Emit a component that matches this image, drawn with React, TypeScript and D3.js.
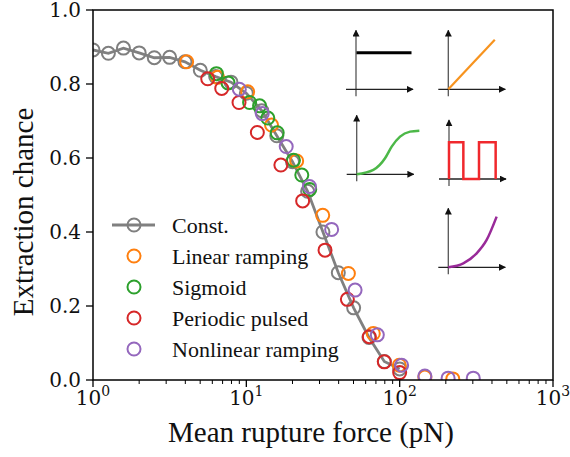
import React from 'react';
import * as d3 from 'd3';

// ---------- data ----------
const constForce = [1, 1.26, 1.58, 2.0, 2.51, 3.16, 3.98, 5.01, 6.31, 7.94, 10, 12.6, 15.8, 20.0, 25.1, 31.6, 39.8, 50.1, 63.1, 79.4, 100];
const constChance = [0.892, 0.883, 0.897, 0.884, 0.871, 0.872, 0.86, 0.837, 0.82, 0.805, 0.775, 0.728, 0.66, 0.59, 0.51, 0.40, 0.29, 0.195, 0.115, 0.05, 0.03];

const linForce = [4.08, 6.5, 10.2, 14.6, 21.3, 31.5, 46.3, 67.3, 99.5, 146, 222];
const linChance = [0.86, 0.818, 0.779, 0.689, 0.592, 0.445, 0.288, 0.126, 0.04, 0.008, 0.003];

const sigForce = [6.38, 7.6, 10.5, 12.2, 13.8, 15.9, 20.3, 23.0, 25.9];
const sigChance = [0.828, 0.803, 0.75, 0.741, 0.708, 0.668, 0.594, 0.554, 0.515];

const perForce = [5.6, 6.91, 8.96, 11.8, 16.8, 23.3, 32.6, 45.6, 63.4, 79.4, 100];
const perChance = [0.814, 0.788, 0.75, 0.669, 0.581, 0.484, 0.351, 0.218, 0.117, 0.049, 0.02];

const nonForce = [9.0, 12.7, 18.2, 25.8, 36.0, 51.2, 71.5, 103, 146, 207, 302];
const nonChance = [0.786, 0.72, 0.631, 0.523, 0.407, 0.243, 0.122, 0.04, 0.011, 0.005, 0.005];

const legendLabels = ['Const.', 'Linear ramping', 'Sigmoid', 'Periodic pulsed', 'Nonlinear ramping'];
const seriesColors = ['#7f7f7f', '#ff7f0e', '#2ca02c', '#d62728', '#9467bd'];

const xMajorTicks = [1, 10, 100, 1000];
const xTickExponents = ['0', '1', '2', '3'];
const yTicks = [0, 0.2, 0.4, 0.6, 0.8, 1.0];

// inset schematic shapes (unit coordinates)
const insetConst = [[0.01, 0.73], [1.11, 0.73]];
const insetLinear = [[0, 0], [0.93, 0.99]];
const insetSigmoid = [[0, 0], [0.333, 0.087], [0.567, 0.32], [0.7, 0.553], [0.867, 0.753], [1.067, 0.853], [1.253, 0.873]];
const insetPulse = [[0, 0], [0, 0.733], [0.287, 0.733], [0.287, 0], [0.6, 0], [0.6, 0.733], [0.933, 0.733], [0.933, 0]];
const insetNonlinear = [[0, 0], [0.3, 0.08], [0.567, 0.28], [0.767, 0.547], [0.967, 1.013]];

const W = 570, H = 457;
const L = 93, R = 553, T = 10, B = 380;

const serifTick = '"DejaVu Serif", serif';
const serifText = '"Liberation Serif", "Times New Roman", serif';

type Inset = { ox: number; oy: number; pts: number[][]; color: string; curve: any; width: number };

export default function App() {
  const x = d3.scaleLog().domain([1, 1000]).range([L, R]);
  const y = d3.scaleLinear().domain([0, 1]).range([B, T]);

  const series = [
    { force: constForce, chance: constChance },
    { force: linForce, chance: linChance },
    { force: sigForce, chance: sigChance },
    { force: perForce, chance: perChance },
    { force: nonForce, chance: nonChance },
  ].map((s, i) => ({ ...s, color: seriesColors[i], label: legendLabels[i] }));

  const constLine = d3
    .line<number>()
    .x((_, i) => x(constForce[i]))
    .y((d) => y(d))(constChance) as string;

  const minorTicks = x.ticks().filter((t) => !xMajorTicks.includes(t));
  const fmt = d3.format('.1f');

  const insetSx = d3.scaleLinear().domain([0, 1]).range([0, 50]);
  const insetSy = d3.scaleLinear().domain([0, 1]).range([0, -50]);
  const insets: Inset[] = [
    { ox: 356, oy: 89.3, pts: insetConst, color: '#000000', curve: d3.curveLinear, width: 3 },
    { ox: 448.3, oy: 89.3, pts: insetLinear, color: '#f7931e', curve: d3.curveLinear, width: 2.2 },
    { ox: 356.7, oy: 174.3, pts: insetSigmoid, color: '#4cb848', curve: d3.curveMonotoneX, width: 2.5 },
    { ox: 449, oy: 179, pts: insetPulse, color: '#f0282d', curve: d3.curveLinear, width: 2.5 },
    { ox: 448.3, oy: 267.3, pts: insetNonlinear, color: '#992a99', curve: d3.curveMonotoneX, width: 2.5 },
  ];
  const insetLine = (pts: number[][], curve: any) =>
    d3
      .line<number[]>()
      .x((d) => insetSx(d[0]))
      .y((d) => insetSy(d[1]))
      .curve(curve)(pts) as string;

  const legendY0 = 225, legendDy = 31;

  return (
    <svg width={W} height={H} style={{ position: 'absolute', left: 0, top: 0, background: '#fff' }}>
      <defs>
        <clipPath id="plotClip">
          <rect x={L} y={T} width={R - L} height={B - T} />
        </clipPath>
        <marker id="arr" viewBox="0 0 10 10" refX="9" refY="5" markerWidth="7" markerHeight="7" markerUnits="userSpaceOnUse" orient="auto">
          <path d="M0,0 L10,5 L0,10 z" fill="#111" />
        </marker>
      </defs>

      {/* data */}
      <g clipPath="url(#plotClip)">
        <path d={constLine} fill="none" stroke="#808080" strokeWidth={2.8} />
        {series.map((s, si) => (
          <g key={si}>
            {s.force.map((f, i) => (
              <circle key={i} cx={x(f)} cy={y(s.chance[i])} r={6.5} fill="none" stroke={s.color} strokeWidth={2} />
            ))}
          </g>
        ))}
      </g>

      {/* insets */}
      {insets.map((ins, k) => (
        <g key={k} transform={`translate(${ins.ox},${ins.oy})`}>
          <line x1={0} y1={7} x2={0} y2={-59} stroke="#555" strokeWidth={1.3} markerEnd="url(#arr)" />
          <line x1={-10} y1={0} x2={57} y2={0} stroke="#222" strokeWidth={1.3} markerEnd="url(#arr)" />
          <path d={insetLine(ins.pts, ins.curve)} fill="none" stroke={ins.color} strokeWidth={ins.width} />
        </g>
      ))}

      {/* frame */}
      <rect x={L} y={T} width={R - L} height={B - T} fill="none" stroke="#000" strokeWidth={1.5} />

      {/* x axis ticks */}
      {xMajorTicks.map((t, i) => (
        <g key={'xm' + i}>
          <line x1={x(t)} x2={x(t)} y1={B} y2={B + 7} stroke="#000" strokeWidth={1.3} />
          <text x={x(t)} y={405} textAnchor="middle" fontFamily={serifTick} fontSize={20} fill="#111">
            <tspan>10</tspan>
            <tspan dy={-9} fontSize={14}>{xTickExponents[i]}</tspan>
          </text>
        </g>
      ))}
      {minorTicks.map((t, i) => (
        <line key={'xn' + i} x1={x(t)} x2={x(t)} y1={B} y2={B + 4} stroke="#000" strokeWidth={1} />
      ))}

      {/* y axis ticks */}
      {yTicks.map((t, i) => (
        <g key={'y' + i}>
          <line x1={L - 7} x2={L} y1={y(t)} y2={y(t)} stroke="#000" strokeWidth={1.3} />
          <text x={81} y={y(t)} dy="0.36em" textAnchor="end" fontFamily={serifTick} fontSize={20} fill="#111">
            {fmt(t)}
          </text>
        </g>
      ))}

      {/* axis labels */}
      <text x={311} y={442} textAnchor="middle" fontFamily={serifText} fontSize={29} fill="#111">
        Mean rupture force (pN)
      </text>
      <text transform={`translate(33,212) rotate(-90)`} textAnchor="middle" fontFamily={serifText} fontSize={29} fill="#111">
        Extraction chance
      </text>

      {/* legend */}
      {series.map((s, i) => {
        const ly = legendY0 + i * legendDy;
        return (
          <g key={'lg' + i}>
            {i === 0 && <line x1={112} x2={155} y1={ly} y2={ly} stroke="#808080" strokeWidth={2.8} />}
            <circle cx={134} cy={ly} r={6.5} fill="none" stroke={s.color} strokeWidth={2} />
            <text x={172} y={ly + 8} fontFamily={serifText} fontSize={22} fill="#111">
              {s.label}
            </text>
          </g>
        );
      })}
    </svg>
  );
}
